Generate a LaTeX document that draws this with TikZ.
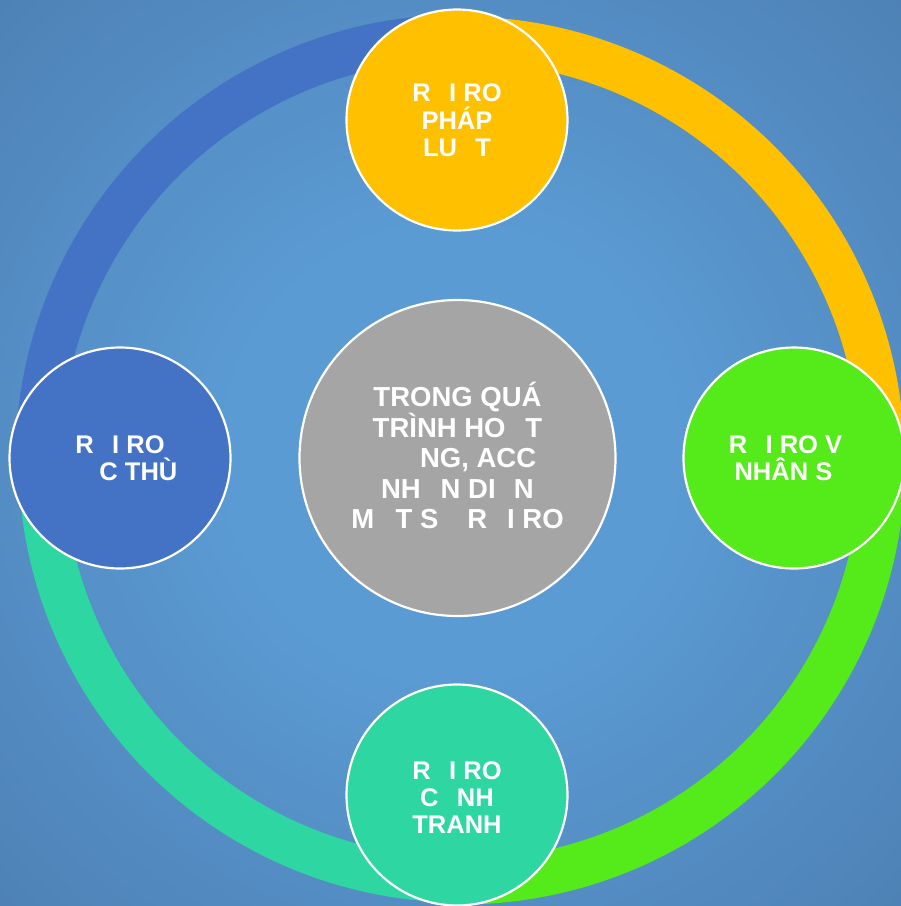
\documentclass[tikz,border=0pt]{standalone}
\usepackage{fontspec}
\setmainfont{Liberation Sans}
\definecolor{bgin}{HTML}{5B9BD4}
\definecolor{bgout}{HTML}{4572A2}
\definecolor{cblue}{HTML}{4472C4}
\definecolor{cyellow}{HTML}{FFC000}
\definecolor{cgreen}{HTML}{55EA1A}
\definecolor{cteal}{HTML}{2ED6A2}
\definecolor{cgray}{HTML}{A5A5A5}
\pgfdeclareradialshading{bgshade}{\pgfpoint{0bp}{0bp}}{color(0bp)=(bgin); color(12bp)=(bgin); color(50bp)=(bgout); color(71bp)=(bgout)}
\tikzset{
  ringseg/.style={line width=45pt, line cap=butt},
  bubble/.style={circle, draw=white, line width=2.2pt, inner sep=0pt, text=white,
    minimum size=221pt, align=center, font=\fontsize{25.5}{27.2}\selectfont\bfseries},
  hub/.style={bubble, minimum size=316pt, fill=cgray, font=\fontsize{27.5}{29.3}\selectfont\bfseries}
}
\begin{document}
\begin{tikzpicture}[x=1pt,y=-1pt]
\useasboundingbox (0,0) rectangle (901,906);
\clip (0,0) rectangle (901,906);
\fill[shading=bgshade] (0,0) rectangle (901,906);
\coordinate (rc) at (461,460);
% ring segments
\draw[ringseg, cblue]   (rc) ++(178:423) arc[start angle=178, end angle=272, radius=423];
\draw[ringseg, cyellow] (rc) ++(268:421) arc[start angle=268, end angle=362, radius=421];
\draw[ringseg, cgreen]  (rc) ++(358:422) arc[start angle=358, end angle=452, radius=422];
\draw[ringseg, cteal]   (rc) ++(88:420)  arc[start angle=88,  end angle=182, radius=420];
% nodes
\node[hub] (center) at (457.5,458) {TRONG QUÁ\\TRÌNH HO\phantom{Ạ}T\\\phantom{ĐỘ}NG, ACC\\NH\phantom{Ậ}N DI\phantom{Ệ}N\\M\phantom{Ộ}T S\phantom{Ố} R\phantom{Ủ}I RO};
\node[bubble, fill=cyellow] (top) at (457,120) {R\phantom{Ủ}I RO\\PHÁP\\LU\phantom{Ậ}T};
\node[bubble, fill=cblue] (left) at (120,458) {R\phantom{Ủ}I RO\\\phantom{ĐẶ}C THÙ};
\node[bubble, fill=cgreen] (right) at (794,458) {R\phantom{Ủ}I RO V\phantom{Ề}\\NHÂN S\phantom{Ự}};
\node[bubble, fill=cteal] (bottom) at (457,795) {R\phantom{Ủ}I RO\\C\phantom{Ạ}NH\\TRANH};
\end{tikzpicture}
\end{document}
